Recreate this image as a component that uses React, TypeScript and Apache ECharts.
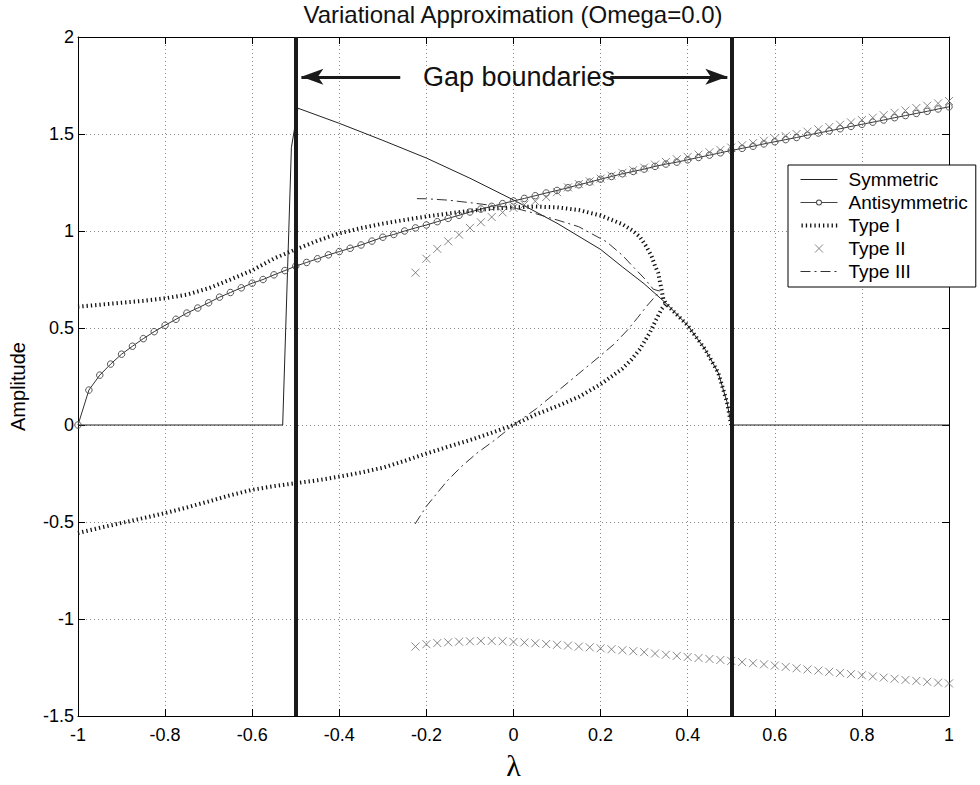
import React, { useEffect, useRef } from 'react';
import * as echarts from 'echarts';

const TITLE = 'Variational Approximation (Omega=0.0)';
const X_NAME = 'λ';
const Y_NAME = 'Amplitude';
const X_MIN = -1;
const X_MAX = 1;
const X_STEP = 0.2;
const Y_MIN = -1.5;
const Y_MAX = 2;
const Y_STEP = 0.5;

const legendNames = ['Symmetric', 'Antisymmetric', 'Type I', 'Type II', 'Type III'];

const symmetric: [number, number][] = [
  [-1, 0], [-0.53, 0], [-0.51, 1.43], [-0.495, 1.633], [-0.4, 1.555], [-0.3, 1.467],
  [-0.2, 1.376], [-0.1, 1.272], [0, 1.16], [0.1, 1.04], [0.2, 0.905], [0.25, 0.815],
  [0.3, 0.728], [0.35, 0.628], [0.4, 0.513], [0.44, 0.39], [0.47, 0.27], [0.49, 0.12],
  [0.5, 0], [1, 0],
];

const antisymmetric: [number, number][] = [
  [-1, 0], [-0.975, 0.18], [-0.95, 0.257], [-0.925, 0.314], [-0.9, 0.365], [-0.875, 0.406],
  [-0.85, 0.445], [-0.825, 0.481], [-0.8, 0.514], [-0.775, 0.545], [-0.75, 0.577], [-0.725, 0.603],
  [-0.7, 0.63], [-0.675, 0.659], [-0.65, 0.683], [-0.625, 0.707], [-0.6, 0.731], [-0.575, 0.75],
  [-0.55, 0.774], [-0.525, 0.796], [-0.5, 0.819], [-0.475, 0.838], [-0.45, 0.857], [-0.425, 0.877],
  [-0.4, 0.894], [-0.375, 0.911], [-0.35, 0.928], [-0.325, 0.948], [-0.3, 0.968], [-0.275, 0.982],
  [-0.25, 1.0], [-0.225, 1.016], [-0.2, 1.031], [-0.175, 1.048], [-0.15, 1.065], [-0.125, 1.081],
  [-0.1, 1.098], [-0.075, 1.113], [-0.05, 1.127], [-0.025, 1.141], [0, 1.155], [0.025, 1.168],
  [0.05, 1.182], [0.075, 1.196], [0.1, 1.209], [0.125, 1.223], [0.15, 1.238], [0.175, 1.252],
  [0.2, 1.267], [0.225, 1.281], [0.25, 1.295], [0.275, 1.307], [0.3, 1.319], [0.325, 1.333],
  [0.35, 1.345], [0.375, 1.355], [0.4, 1.367], [0.425, 1.379], [0.45, 1.391], [0.475, 1.403],
  [0.5, 1.415], [0.525, 1.426], [0.55, 1.437], [0.575, 1.449], [0.6, 1.46], [0.625, 1.471],
  [0.65, 1.482], [0.675, 1.494], [0.7, 1.505], [0.725, 1.516], [0.75, 1.527], [0.775, 1.539],
  [0.8, 1.55], [0.825, 1.561], [0.85, 1.572], [0.875, 1.584], [0.9, 1.595], [0.925, 1.606],
  [0.95, 1.617], [0.975, 1.629], [1, 1.64],
];

const typeIUpper: [number, number][] = [
  [-1, 0.61], [-0.95, 0.62], [-0.9, 0.63], [-0.85, 0.64], [-0.8, 0.653], [-0.75, 0.672],
  [-0.7, 0.705], [-0.65, 0.75], [-0.6, 0.797], [-0.55, 0.858], [-0.5, 0.905], [-0.45, 0.95],
  [-0.4, 0.988], [-0.35, 1.015], [-0.3, 1.038], [-0.25, 1.057], [-0.2, 1.075], [-0.15, 1.09],
  [-0.1, 1.104], [-0.05, 1.115], [0, 1.122], [0.05, 1.126], [0.1, 1.122], [0.15, 1.108],
  [0.2, 1.08], [0.25, 1.035], [0.275, 1.0], [0.29, 0.97], [0.305, 0.92], [0.317, 0.87],
  [0.325, 0.82], [0.332, 0.785], [0.338, 0.72], [0.344, 0.65], [0.35, 0.625],
];

const typeILower: [number, number][] = [
  [-1, -0.557], [-0.95, -0.53], [-0.9, -0.505], [-0.85, -0.48], [-0.8, -0.454], [-0.75, -0.425],
  [-0.7, -0.394], [-0.65, -0.362], [-0.6, -0.334], [-0.55, -0.315], [-0.5, -0.3], [-0.45, -0.285],
  [-0.4, -0.266], [-0.35, -0.245], [-0.3, -0.22], [-0.25, -0.185], [-0.2, -0.147], [-0.15, -0.112],
  [-0.1, -0.078], [-0.05, -0.04], [0, 0], [0.05, 0.053], [0.1, 0.097], [0.15, 0.145],
  [0.2, 0.21], [0.25, 0.29], [0.27, 0.335], [0.29, 0.39], [0.313, 0.476], [0.328, 0.545],
  [0.34, 0.598], [0.35, 0.625], [0.4, 0.513], [0.44, 0.39], [0.47, 0.27], [0.49, 0.12], [0.5, 0],
];

const typeIIUpper: [number, number][] = [
  [-0.225, 0.785], [-0.2, 0.857], [-0.175, 0.908], [-0.15, 0.947], [-0.125, 0.981], [-0.1, 1.016],
  [-0.075, 1.045], [-0.05, 1.072], [-0.025, 1.096], [0, 1.119], [0.025, 1.136], [0.05, 1.153],
  [0.075, 1.175], [0.1, 1.2], [0.125, 1.225], [0.15, 1.242], [0.175, 1.256], [0.2, 1.27],
  [0.225, 1.285], [0.25, 1.3], [0.275, 1.314], [0.3, 1.327], [0.325, 1.342], [0.35, 1.356],
  [0.375, 1.37], [0.4, 1.382], [0.425, 1.394], [0.45, 1.406], [0.475, 1.418], [0.5, 1.43],
  [0.525, 1.442], [0.55, 1.453], [0.575, 1.465], [0.6, 1.477], [0.625, 1.489], [0.65, 1.5],
  [0.675, 1.512], [0.7, 1.524], [0.725, 1.536], [0.75, 1.548], [0.775, 1.56], [0.8, 1.572],
  [0.825, 1.584], [0.85, 1.597], [0.875, 1.609], [0.9, 1.621], [0.925, 1.634], [0.95, 1.646],
  [0.975, 1.658], [1, 1.67],
];

const typeIILower: [number, number][] = [
  [-0.225, -1.142], [-0.2, -1.13], [-0.175, -1.124], [-0.15, -1.12], [-0.125, -1.117], [-0.1, -1.115],
  [-0.075, -1.113], [-0.05, -1.113], [-0.025, -1.115], [0, -1.118], [0.025, -1.121], [0.05, -1.125],
  [0.075, -1.129], [0.1, -1.133], [0.125, -1.137], [0.15, -1.142], [0.175, -1.146], [0.2, -1.151],
  [0.225, -1.156], [0.25, -1.161], [0.275, -1.166], [0.3, -1.171], [0.325, -1.178], [0.35, -1.184],
  [0.375, -1.19], [0.4, -1.196], [0.425, -1.201], [0.45, -1.206], [0.475, -1.211], [0.5, -1.216],
  [0.525, -1.222], [0.55, -1.228], [0.575, -1.234], [0.6, -1.24], [0.625, -1.247], [0.65, -1.254],
  [0.675, -1.26], [0.7, -1.266], [0.725, -1.272], [0.75, -1.278], [0.775, -1.284], [0.8, -1.29],
  [0.825, -1.296], [0.85, -1.302], [0.875, -1.308], [0.9, -1.314], [0.925, -1.319], [0.95, -1.324],
  [0.975, -1.328], [1, -1.332],
];

const typeIII: [number, number][] = [
  [-0.226, -0.51], [-0.2, -0.419], [-0.175, -0.35], [-0.153, -0.29], [-0.12, -0.215], [-0.085, -0.147],
  [-0.039, -0.071], [0, 0], [0.053, 0.085], [0.1, 0.172], [0.15, 0.265], [0.2, 0.358],
  [0.23, 0.415], [0.26, 0.485], [0.285, 0.553], [0.306, 0.613], [0.325, 0.662], [0.336, 0.69],
  [0.321, 0.7], [0.302, 0.752], [0.275, 0.815], [0.25, 0.875], [0.214, 0.944], [0.15, 1.022],
  [0.1, 1.057], [0.05, 1.09], [0, 1.12], [-0.05, 1.132], [-0.1, 1.146], [-0.15, 1.159],
  [-0.2, 1.166], [-0.226, 1.167],
];

const gapBoundaries = [-0.5, 0.5];
const gapLabel = 'Gap boundaries';
const gapArrowLeft: [number, number][] = [[-0.26, 1.795], [-0.487, 1.795]];
const gapArrowRight: [number, number][] = [[0.222, 1.795], [0.491, 1.795]];

const SANS = "'Liberation Sans', Arial, Helvetica, sans-serif";
const X_SYMBOL = 'path://M0,0L10,10M10,0L0,10';

// legend glyphs drawn in 37 x 12 boxes
const ICON_SOLID = 'path://M0,0M37,12M0,5.5h37v1h-37z';
const ICON_CIRCLE_LINE =
  'path://M0,0M37,12M0,5.5h15.5v1h-15.5zM21.5,5.5h15.5v1h-15.5zM15.5,6a3,3 0 1,1 6,0a3,3 0 1,1 -6,0zM16.5,6a2,2 0 1,0 4,0a2,2 0 1,0 -4,0z';
const ICON_DOTTED =
  'path://M0,0M37,12M1,4h1.3v4h-1.3zM5.3,4h1.3v4h-1.3zM9.6,4h1.3v4h-1.3zM13.9,4h1.3v4h-1.3zM18.2,4h1.3v4h-1.3zM22.5,4h1.3v4h-1.3zM26.8,4h1.3v4h-1.3zM31.1,4h1.3v4h-1.3zM35.4,4h1.3v4h-1.3z';
const ICON_CROSS = 'path://M0,0M37,12M14.5,2L22.5,10M22.5,2L14.5,10';
const ICON_DASHDOT = 'path://M0,0M37,12M0,5.5h10v1h-10zM14,5.5h2v1h-2zM20,5.5h10v1h-10zM34,5.5h2v1h-2z';

export default function App() {
  const ref = useRef<HTMLDivElement>(null);

  useEffect(() => {
    document.body.style.margin = '0';
    if (!ref.current) return;
    const chart = echarts.init(ref.current, undefined, { renderer: 'svg' });

    const axisCommon = {
      type: 'value' as const,
      axisLine: { show: true, onZero: false, lineStyle: { color: '#000', width: 1 } },
      axisTick: { show: true, inside: true, length: 7, lineStyle: { color: '#000' } },
    };

    const option: any = {
      animation: false,
      backgroundColor: '#fff',
      title: {
        text: TITLE,
        left: 513,
        top: 2,
        padding: 0,
        textAlign: 'center',
        textStyle: { fontSize: 24, fontWeight: 'normal', color: '#111', fontFamily: SANS },
      },
      grid: { left: 78, right: 31, top: 37, bottom: 67 },
      legend: {
        data: [
          { name: legendNames[0], icon: ICON_SOLID, itemStyle: { color: '#222' } },
          { name: legendNames[1], icon: ICON_CIRCLE_LINE, itemStyle: { color: '#444', borderWidth: 0 } },
          { name: legendNames[2], icon: ICON_DOTTED, itemStyle: { color: '#111' } },
          { name: legendNames[3], icon: ICON_CROSS, itemStyle: { color: 'none', borderColor: '#6a6a6a', borderWidth: 1 } },
          { name: legendNames[4], icon: ICON_DASHDOT, itemStyle: { color: '#333' } },
        ],
        orient: 'vertical',
        left: 788,
        top: 165,
        itemWidth: 37,
        itemHeight: 12,
        itemGap: 4,
        padding: [5, 8, 6, 10],
        backgroundColor: '#fff',
        borderColor: '#000',
        borderWidth: 1,
        borderRadius: 0,
        textStyle: { fontSize: 19, color: '#000', fontFamily: SANS, padding: [0, 0, 0, 6] },
        selectedMode: false,
      },
      xAxis: [
        {
          ...axisCommon,
          min: X_MIN,
          max: X_MAX,
          interval: X_STEP,
          position: 'bottom',
          axisLabel: { margin: 10, fontSize: 18, color: '#000', fontFamily: SANS },
          splitLine: { show: true, lineStyle: { color: '#888', type: [1, 3], width: 1 } },
          name: X_NAME,
          nameLocation: 'middle',
          nameGap: 34,
          nameTextStyle: { fontSize: 30, color: '#000', fontFamily: "'Liberation Serif', 'DejaVu Serif', serif" },
        },
        {
          ...axisCommon,
          min: X_MIN,
          max: X_MAX,
          interval: X_STEP,
          position: 'top',
          axisLabel: { show: false },
          splitLine: { show: false },
        },
      ],
      yAxis: [
        {
          ...axisCommon,
          min: Y_MIN,
          max: Y_MAX,
          interval: Y_STEP,
          position: 'left',
          axisLabel: { margin: 4, fontSize: 18, color: '#000', fontFamily: SANS },
          splitLine: { show: true, lineStyle: { color: '#888', type: [1, 3], width: 1 } },
          name: Y_NAME,
          nameLocation: 'middle',
          nameGap: 50,
          nameRotate: 90,
          nameTextStyle: { fontSize: 20, color: '#000', fontFamily: SANS, padding: [0, 20, 0, 0] },
        },
        {
          ...axisCommon,
          min: Y_MIN,
          max: Y_MAX,
          interval: Y_STEP,
          position: 'right',
          axisLabel: { show: false },
          splitLine: { show: false },
        },
      ],
      series: [
        {
          name: 'Symmetric',
          type: 'line',
          data: symmetric,
          symbol: 'none',
          lineStyle: { color: '#222', width: 1 },
          itemStyle: { color: '#222' },
          z: 3,
        },
        {
          name: 'Antisymmetric',
          type: 'line',
          data: antisymmetric,
          symbol: 'circle',
          symbolSize: 6.5,
          showAllSymbol: true,
          lineStyle: { color: '#333', width: 1 },
          itemStyle: { color: 'rgba(255,255,255,0)', borderColor: '#555', borderWidth: 1 },
          z: 3,
        },
        {
          name: 'Type I',
          type: 'line',
          data: typeIUpper,
          symbol: 'none',
          lineStyle: { color: '#111', width: 4, type: [1.3, 3] },
          itemStyle: { color: '#111' },
          z: 3,
        },
        {
          name: 'Type I',
          type: 'line',
          data: typeILower,
          symbol: 'none',
          lineStyle: { color: '#111', width: 4, type: [1.3, 3] },
          itemStyle: { color: '#111' },
          z: 3,
        },
        {
          name: 'Type II',
          type: 'scatter',
          data: typeIIUpper,
          symbol: X_SYMBOL,
          symbolSize: 8,
          itemStyle: { color: 'none', borderColor: '#6a6a6a', borderWidth: 1 },
          z: 3,
        },
        {
          name: 'Type II',
          type: 'scatter',
          data: typeIILower,
          symbol: X_SYMBOL,
          symbolSize: 8,
          itemStyle: { color: 'none', borderColor: '#6a6a6a', borderWidth: 1 },
          z: 3,
        },
        {
          name: 'Type III',
          type: 'line',
          data: typeIII,
          symbol: 'none',
          lineStyle: { color: '#333', width: 1, type: [10, 4, 2, 4] },
          itemStyle: { color: '#333' },
          z: 3,
        },
        {
          name: 'boundaries',
          type: 'line',
          data: [],
          silent: true,
          z: 5,
          markLine: {
            silent: true,
            symbol: 'none',
            label: { show: false },
            lineStyle: { color: '#1a1a1a', width: 4, type: 'solid' },
            data: gapBoundaries.map((x) => ({ xAxis: x })),
          },
        },
        {
          name: 'arrows',
          type: 'line',
          data: [],
          silent: true,
          z: 5,
          markLine: {
            silent: true,
            symbol: ['none', 'arrow'],
            symbolSize: [12, 22],
            label: { show: false },
            lineStyle: { color: '#1a1a1a', width: 3, type: 'solid' },
            data: [
              [{ coord: gapArrowLeft[0] }, { coord: gapArrowLeft[1] }],
              [{ coord: gapArrowRight[0] }, { coord: gapArrowRight[1] }],
            ],
          },
        },
      ],
      graphic: [
        {
          type: 'text',
          x: 519,
          y: 77,
          z: 10,
          style: {
            text: gapLabel,
            fill: '#111',
            font: `27px ${SANS}`,
            align: 'center',
            verticalAlign: 'middle',
            textAlign: 'center',
            textVerticalAlign: 'middle',
          },
        },
      ],
    };

    chart.setOption(option);
    return () => chart.dispose();
  }, []);

  return <div ref={ref} style={{ width: 980, height: 785 }} />;
}
